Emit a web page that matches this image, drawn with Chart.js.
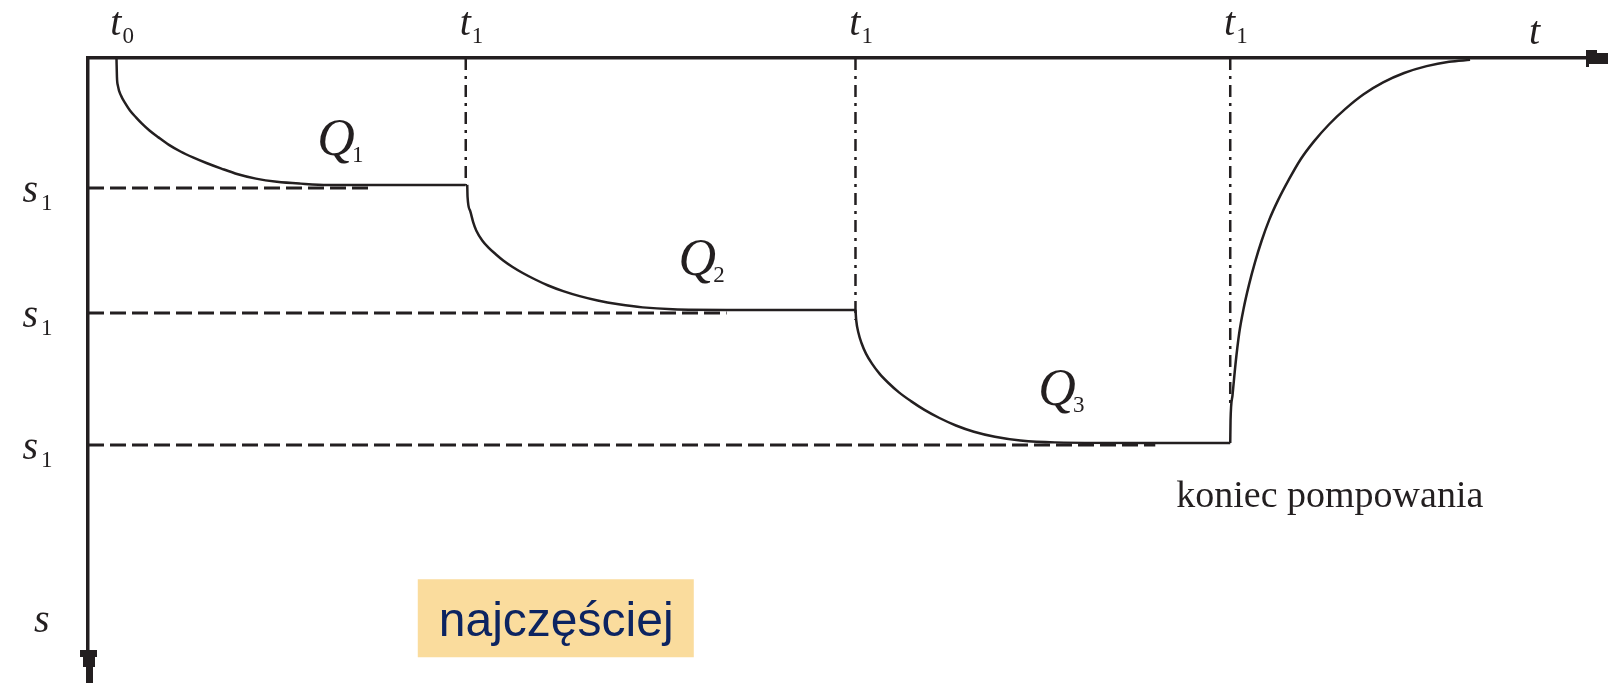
<!DOCTYPE html>
<html lang="pl">
<head>
<meta charset="utf-8">
<title>Depresja przy pompowaniu stopniowym</title>
<script src="https://cdn.jsdelivr.net/npm/chart.js@4.4.1/dist/chart.umd.min.js"></script>
<style>
  html, body { margin: 0; padding: 0; background: #fff; overflow: hidden; }
  canvas { display: block; }
</style>
</head>
<body>
<canvas id="chart" width="1608" height="683"></canvas>
<script>
// Czas t i depresja s w umownych jednostkach (oś s skierowana w dół)
const stage1T = [1.9, 1.93, 2.0, 2.2, 2.5, 2.8, 3.2, 3.6, 4.1, 4.7, 5.4, 6.2, 7.0, 7.9, 8.9, 10.0, 11.2, 12.6, 14.2, 16.0, 18.8, 25.2];
const stage1S = [0, 3.0, 4.5, 6.0, 7.3, 8.4, 9.5, 10.5, 11.6, 12.7, 13.9, 15.0, 15.9, 16.8, 17.7, 18.6, 19.3, 19.8, 20.1, 20.3, 20.3, 20.3];

const stage2T = [25.3, 25.32, 25.5, 25.7, 25.9, 26.3, 26.7, 27.2, 27.7, 28.3, 29.0, 29.8, 30.7, 31.7, 32.8, 34.0, 35.4, 37.0, 39.0, 42.6, 51.2];
const stage2S = [20.3, 22.2, 24.5, 26.3, 27.6, 29.2, 30.3, 31.4, 32.4, 33.4, 34.4, 35.4, 36.4, 37.3, 38.1, 38.8, 39.4, 39.9, 40.2, 40.3, 40.3];

const stage3T = [51.2, 51.25, 51.4, 51.6, 51.9, 52.3, 52.8, 53.4, 54.1, 54.9, 55.8, 56.8, 57.9, 59.1, 60.5, 62.2, 64.5, 71.2, 76.2];
const stage3S = [40.3, 42.0, 44.0, 45.6, 47.3, 48.9, 50.5, 52.0, 53.5, 54.9, 56.3, 57.6, 58.8, 59.8, 60.6, 61.2, 61.5, 61.6, 61.6];

// Odbudowa zwierciadła po zakończeniu pompowania
const recoveryT = [76.2, 76.22, 76.35, 76.55, 76.8, 77.1, 77.45, 77.85, 78.3, 78.8, 79.4, 80.1, 80.9, 81.8, 82.8, 83.9, 85.1, 86.4, 87.8, 89.3, 90.8, 92.2];
const recoveryS = [61.6, 58.0, 54.0, 49.0, 44.0, 40.0, 36.3, 32.7, 29.2, 25.9, 22.7, 19.5, 16.2, 13.3, 10.6, 8.1, 5.8, 3.9, 2.4, 1.3, 0.6, 0.3];

// Momenty zmiany wydatku i ustalone depresje
const switchT = [1.9, 25.2, 51.2, 76.2];
const switchSubs = ['0', '1', '1', '1'];
const guideEndS = [0, 20.3, 41.9, 56.0];
const levelS = [20.8, 40.8, 61.9];
const levelEndT = [18.8, 42.6, 71.2];
const levelSubs = ['1', '1', '1'];
const flowSubs = ['1', '2', '3'];

const INK = '#231f20';

function zip(ts, ss) {
  return ts.map((t, i) => ({ x: t, y: ss[i] }));
}

/**
 * Podpisy osi, wydatków Q i strzałki na końcach osi
 */
const pumpLabels = {
  id: 'pumpLabels',
  afterDatasetsDraw(chart) {
    const { ctx, chartArea: a, scales: { x, y } } = chart;
    ctx.save();
    ctx.fillStyle = INK;
    ctx.textBaseline = 'alphabetic';

    // strzałka osi t
    ctx.beginPath();
    ctx.moveTo(a.right - 1, a.top - 8);
    ctx.lineTo(a.right + 10, a.top - 8);
    ctx.lineTo(a.right + 10, a.top - 5);
    ctx.lineTo(a.right + 21, a.top - 5);
    ctx.lineTo(a.right + 21, a.top + 6);
    ctx.lineTo(a.right + 2, a.top + 6);
    ctx.lineTo(a.right + 2, a.top + 9);
    ctx.lineTo(a.right - 1, a.top + 9);
    ctx.closePath();
    ctx.fill();

    // strzałka osi s
    const b = a.bottom;
    ctx.beginPath();
    ctx.moveTo(a.left - 8, b - 33);
    ctx.lineTo(a.left + 9, b - 33);
    ctx.lineTo(a.left + 9, b - 26);
    ctx.lineTo(a.left + 7, b - 26);
    ctx.lineTo(a.left + 7, b - 16);
    ctx.lineTo(a.left + 5, b - 16);
    ctx.lineTo(a.left + 5, b);
    ctx.lineTo(a.left - 1, b);
    ctx.lineTo(a.left - 1, b - 16);
    ctx.lineTo(a.left - 5, b - 16);
    ctx.lineTo(a.left - 5, b - 26);
    ctx.lineTo(a.left - 8, b - 26);
    ctx.closePath();
    ctx.fill();

    // t0, t1 ... nad osią czasu
    switchT.forEach((t, i) => {
      const px = x.getPixelForValue(t);
      ctx.font = 'italic 40px "Liberation Serif"';
      ctx.textAlign = 'right';
      ctx.fillText('t', px + 5, a.top - 23);
      ctx.font = '23px "Liberation Serif"';
      ctx.textAlign = 'left';
      ctx.fillText(switchSubs[i], px + 6, a.top - 15);
    });
    ctx.font = 'italic 40px "Liberation Serif"';
    ctx.textAlign = 'center';
    ctx.fillText('t', x.getPixelForValue(96.5), a.top - 14);

    // s1 przy osi depresji
    levelS.forEach((s, i) => {
      const py = y.getPixelForValue(s);
      ctx.font = 'italic 40px "Liberation Serif"';
      ctx.textAlign = 'right';
      ctx.fillText('s', a.left - 50, py + 14);
      ctx.font = '23px "Liberation Serif"';
      ctx.textAlign = 'left';
      ctx.fillText(levelSubs[i], a.left - 47, py + 22);
    });
    ctx.font = 'italic 40px "Liberation Serif"';
    ctx.textAlign = 'left';
    ctx.fillText('s', a.left - 54, y.getPixelForValue(91.8));

    // wydatki Q1..Q3
    const flowAt = [[15.3, 15.5], [39.4, 34.7], [63.4, 55.5]];
    flowAt.forEach(([t, s], i) => {
      const px = x.getPixelForValue(t);
      const py = y.getPixelForValue(s);
      ctx.font = 'italic 52px "Liberation Serif"';
      ctx.textAlign = 'left';
      ctx.fillText('Q', px, py);
      const w = ctx.measureText('Q').width;
      ctx.font = '23px "Liberation Serif"';
      ctx.fillText(flowSubs[i], px + w - 3, py + 7);
    });

    ctx.font = '38px "Liberation Serif"';
    ctx.textAlign = 'left';
    ctx.fillText('koniec pompowania', x.getPixelForValue(72.6), y.getPixelForValue(71.8));

    // ramka z podpisem
    const bx = x.getPixelForValue(22.0);
    const by = y.getPixelForValue(83.4);
    ctx.fillStyle = '#fadc9d';
    ctx.fillRect(bx, by, 276, 78);
    ctx.fillStyle = '#0c2461';
    ctx.font = '48px "Liberation Sans"';
    ctx.fillText('najczęściej', bx + 21, by + 57);

    ctx.restore();
  }
};

function curve(data) {
  return {
    data,
    borderColor: INK,
    borderWidth: 2.5,
    pointRadius: 0,
    fill: false,
    cubicInterpolationMode: 'monotone'
  };
}

function straight(data, dash, width) {
  return {
    data,
    borderColor: INK,
    borderWidth: width,
    borderDash: dash,
    pointRadius: 0,
    fill: false,
    tension: 0
  };
}

function createPumpingChart(canvasId) {
  const ctx = document.getElementById(canvasId).getContext('2d');

  const levels = levelS.map((s, i) =>
    straight([{ x: 0, y: s }, { x: levelEndT[i], y: s }], [16, 6], 3));
  const guides = switchT.slice(1).map((t, i) =>
    straight([{ x: t, y: 0 }, { x: t, y: guideEndS[i + 1] }], [12, 6, 3, 6], 2.5));

  new Chart(ctx, {
    type: 'line',
    data: {
      datasets: [
        ...levels,
        ...guides,
        curve(zip(stage1T, stage1S)),
        curve(zip(stage2T, stage2S)),
        curve(zip(stage3T, stage3S)),
        curve(zip(recoveryT, recoveryS))
      ]
    },
    options: {
      responsive: false,
      animation: false,
      layout: { padding: { left: 88, top: 58, right: 21, bottom: 0 } },
      plugins: {
        legend: { display: false },
        tooltip: { enabled: false }
      },
      scales: {
        x: {
          type: 'linear',
          position: 'top',
          min: 0,
          max: 100,
          ticks: { display: false },
          grid: { display: false, drawTicks: false },
          border: { display: true, color: INK, width: 3.5 }
        },
        y: {
          type: 'linear',
          reverse: true,
          min: 0,
          max: 100,
          ticks: { display: false },
          grid: { display: false, drawTicks: false },
          border: { display: true, color: INK, width: 3.5 }
        }
      }
    },
    plugins: [pumpLabels]
  });
}

createPumpingChart('chart');
</script>
</body>
</html>
